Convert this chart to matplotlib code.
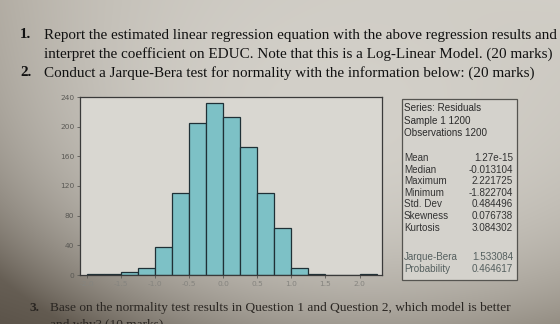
import numpy as np
import matplotlib
matplotlib.use("Agg")
import matplotlib.pyplot as plt
from matplotlib.colors import to_rgb

# histogram of residuals (bin width 0.25)
bin_edges = [-2.0, -1.75, -1.5, -1.25, -1.0, -0.75, -0.5, -0.25, 0.0,
             0.25, 0.5, 0.75, 1.0, 1.25, 1.5, 1.75, 2.0, 2.25]
counts = [1, 1, 4, 9, 38, 110, 205, 232, 213, 173, 110, 64, 10, 1, 0, 0, 1]

y_ticks = [0, 40, 80, 120, 160, 200, 240]
x_ticks = [-2.0, -1.5, -1.0, -0.5, 0.0, 0.5, 1.0, 1.5, 2.0]
x_tick_labels = ["-2.0", "-1.5", "-1.0", "-0.5", "0.0", "0.5", "1.0", "1.5", "2.0"]

header_lines = ["Series: Residuals", "Sample 1 1200", "Observations 1200"]
stat_names = ["Mean", "Median", "Maximum", "Minimum", "Std. Dev", "Skewness", "Kurtosis"]
stat_values = ["1.27e-15", "-0.013104", "2.221725", "-1.822704", "0.484496", "0.076738", "3.084302"]
jb_names = ["Jarque-Bera", "Probability"]
jb_values = ["1.533084", "0.464617"]

questions_top = [
    ("1.", "Report the estimated linear regression equation with the above regression results and"),
    ("", "interpret the coefficient on EDUC. Note that this is a Log-Linear Model. (20 marks)"),
    ("2.", "Conduct a Jarque-Bera test for normality with the information below: (20 marks)"),
]
question_bottom = ("3.", "Base on the normality test results in Question 1 and Question 2, which model is better")
question_bottom_cut = "and why? (10 marks)"

W, H = 560, 324
fig = plt.figure(figsize=(W / 100, H / 100), dpi=100)

# photographed page background: light centre, darker corners
bg = fig.add_axes([0, 0, 1, 1], zorder=-10)
yy, xx = np.mgrid[0:1:H * 1j, 0:1:W * 1j]
tl, tr = np.array(to_rgb("#aaa49a")), np.array(to_rgb("#cfcbc3"))
bl, br = np.array(to_rgb("#5c544a")), np.array(to_rgb("#8a8378"))
edge = ((1 - xx)[..., None] * (1 - yy)[..., None] * tl + xx[..., None] * (1 - yy)[..., None] * tr
        + (1 - xx)[..., None] * yy[..., None] * bl + xx[..., None] * yy[..., None] * br)
centre = np.array(to_rgb("#d3d0c9"))
r = np.clip(np.sqrt(((xx - 0.6) / 0.75) ** 2 + ((yy - 0.35) / 0.85) ** 2), 0, 1)
w = (r ** 2.2)[..., None]
img = centre * (1 - w) + edge * w
bg.imshow(img, aspect="auto", extent=[0, 1, 1, 0])
bg.set_xlim(0, 1)
bg.set_ylim(1, 0)
bg.axis("off")

# histogram axes
ax = fig.add_axes([80 / W, 1 - 275 / H, 302 / W, 178 / H])
ax.set_facecolor("#d9d7d1")
ax.bar(bin_edges[:-1], counts, width=0.25, align="edge",
       color="#7dc1c6", edgecolor="#1f3036", linewidth=0.9)
ax.set_xlim(-2.1, 2.33)
ax.set_ylim(0, 240)
ax.set_yticks(y_ticks)
ax.set_xticks(x_ticks)
ax.set_xticklabels(x_tick_labels)
ax.tick_params(axis="both", labelsize=5.4, colors="#5a5955", length=2, width=0.6, pad=2)
ax.tick_params(axis="x", labelcolor="#85847f")
for s in ax.spines.values():
    s.set_color("#3a3a3a")
    s.set_linewidth(0.9)

# statistics box
box = plt.Rectangle((402 / W, 1 - 280 / H), 115 / W, 181 / H, transform=fig.transFigure,
                    facecolor="#d4d2cc", edgecolor="#555450", linewidth=0.9, zorder=1)
fig.add_artist(box)
tx = 404 / W
vx = 513 / W
kw = dict(fontsize=7.1, family="Liberation Sans", va="center", zorder=2)
for i, line in enumerate(header_lines):
    fig.text(tx, 1 - (108 + 12.5 * i) / H, line, color="#2a2a2a", **kw)
for i, (n, v) in enumerate(zip(stat_names, stat_values)):
    yv = 1 - (158 + 11.6 * i) / H
    fig.text(tx, yv, n, color="#333333", **kw)
    fig.text(vx, yv, v, ha="right", color="#333333", **kw)
for i, (n, v) in enumerate(zip(jb_names, jb_values)):
    yv = 1 - (257 + 11.5 * i) / H
    fig.text(tx, yv, n, color="#55605f", **kw)
    fig.text(vx, yv, v, ha="right", color="#55605f", **kw)

# question text from the page
qkw = dict(fontsize=10.9, family="Liberation Serif", va="center", color="#111111")
for i, (num, txt) in enumerate(questions_top):
    yq = 1 - (35 + 19 * i) / H
    if num:
        fig.text(20 / W, yq, num, fontweight="bold", **qkw)
    fig.text(44 / W, yq, txt, **qkw)

bkw = dict(fontsize=9.6, family="Liberation Serif", va="center", color="#2a2622")
fig.text(30 / W, 1 - 308 / H, question_bottom[0], fontweight="bold", **bkw)
fig.text(50 / W, 1 - 308 / H, question_bottom[1], **bkw)
fig.text(50 / W, 1 - 325 / H, question_bottom_cut, **bkw)

fig.savefig("out.png", dpi=100)
